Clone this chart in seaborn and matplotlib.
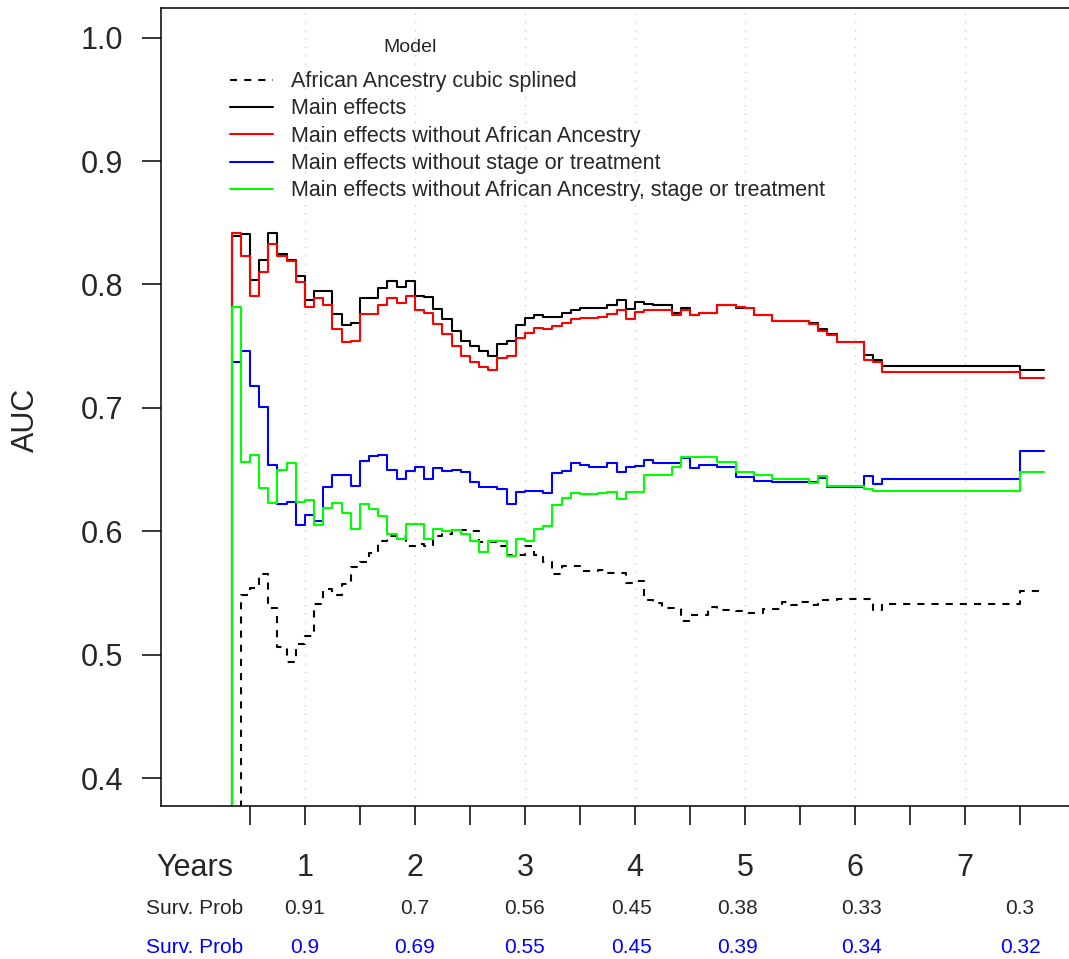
import matplotlib
matplotlib.use("Agg")
import matplotlib.pyplot as plt
import matplotlib.transforms as mtransforms
import numpy as np
import pandas as pd
import seaborn as sns

# months at which the time-dependent AUC was evaluated (m3 lies below the axis)
months = list(range(3, 93))
last_month = 92.6

auc_spline = [0.30, 0.30,
              0.548, 0.554, 0.565, 0.538, 0.506, 0.494, 0.509,
              0.515, 0.541, 0.553, 0.548, 0.557, 0.571, 0.575, 0.582,
              0.592, 0.596, 0.596, 0.588, 0.590, 0.588, 0.596, 0.598,
              0.601, 0.601, 0.600, 0.591, 0.591, 0.588, 0.581, 0.581,
              0.588, 0.581, 0.575, 0.565, 0.572, 0.572, 0.568, 0.568,
              0.569, 0.566, 0.566, 0.558, 0.560, 0.544, 0.542, 0.538,
              0.538, 0.527, 0.532, 0.532, 0.539, 0.536, 0.536, 0.535,
              0.534, 0.534, 0.537, 0.537, 0.543, 0.540, 0.543, 0.540,
              0.544, 0.544, 0.545, 0.545, 0.545, 0.545, 0.536] + [0.541] * 15 + [0.552] * 3

auc_main = [0.30,
            0.839, 0.841, 0.804, 0.820, 0.842, 0.825, 0.820, 0.807,
            0.787, 0.795, 0.795, 0.776, 0.767, 0.769, 0.789, 0.789,
            0.797, 0.803, 0.798, 0.803, 0.791, 0.790, 0.780, 0.772,
            0.762, 0.754, 0.750, 0.746, 0.742, 0.752, 0.754, 0.767,
            0.773, 0.775, 0.774, 0.774, 0.777, 0.779, 0.781, 0.781,
            0.781, 0.783, 0.787, 0.780, 0.786, 0.784, 0.783, 0.783,
            0.777, 0.781, 0.775, 0.777, 0.777, 0.783, 0.783, 0.781,
            0.781, 0.775, 0.775, 0.770, 0.770, 0.770, 0.770, 0.769,
            0.764, 0.760, 0.753, 0.753, 0.753, 0.743, 0.739] + [0.734] * 15 + [0.731] * 3

auc_no_aa = [0.30,
             0.842, 0.823, 0.791, 0.810, 0.833, 0.823, 0.819, 0.802,
             0.782, 0.789, 0.783, 0.764, 0.753, 0.754, 0.776, 0.776,
             0.783, 0.789, 0.785, 0.791, 0.779, 0.777, 0.768, 0.760,
             0.750, 0.742, 0.737, 0.733, 0.731, 0.740, 0.742, 0.757,
             0.761, 0.765, 0.764, 0.766, 0.769, 0.772, 0.773, 0.773,
             0.774, 0.776, 0.779, 0.772, 0.778, 0.779, 0.779, 0.779,
             0.775, 0.779, 0.775, 0.777, 0.777, 0.783, 0.783, 0.782,
             0.781, 0.775, 0.775, 0.770, 0.770, 0.770, 0.770, 0.768,
             0.762, 0.759, 0.753, 0.753, 0.753, 0.739, 0.737] + [0.729] * 15 + [0.724] * 3

auc_no_stage = [0.30,
                0.737, 0.746, 0.718, 0.701, 0.654, 0.622, 0.624, 0.605,
                0.613, 0.608, 0.636, 0.646, 0.646, 0.637, 0.657, 0.661,
                0.662, 0.650, 0.642, 0.649, 0.652, 0.642, 0.651, 0.649,
                0.650, 0.648, 0.640, 0.636, 0.636, 0.634, 0.622, 0.632,
                0.633, 0.633, 0.631, 0.647, 0.649, 0.655, 0.654, 0.652,
                0.652, 0.655, 0.648, 0.652, 0.653, 0.658, 0.655, 0.655,
                0.655, 0.659, 0.651, 0.654, 0.654, 0.652, 0.652, 0.644,
                0.644, 0.641, 0.641, 0.640, 0.640, 0.640, 0.640, 0.640,
                0.643, 0.636, 0.636, 0.636, 0.636, 0.645, 0.638] + [0.642] * 15 + [0.665] * 3

auc_min = [0.30,
           0.782, 0.656, 0.662, 0.635, 0.623, 0.650, 0.655, 0.624,
           0.625, 0.605, 0.619, 0.623, 0.615, 0.602, 0.622, 0.618,
           0.612, 0.598, 0.594, 0.606, 0.606, 0.594, 0.602, 0.600,
           0.601, 0.598, 0.592, 0.583, 0.592, 0.592, 0.580, 0.594,
           0.592, 0.602, 0.604, 0.621, 0.627, 0.631, 0.630, 0.630,
           0.631, 0.632, 0.626, 0.632, 0.632, 0.646, 0.646, 0.646,
           0.652, 0.660, 0.660, 0.660, 0.660, 0.656, 0.656, 0.648,
           0.648, 0.646, 0.646, 0.642, 0.642, 0.642, 0.642, 0.639,
           0.645, 0.637, 0.637, 0.637, 0.637, 0.634, 0.633] + [0.633] * 15 + [0.648] * 3

model_names = ["African Ancestry cubic splined",
               "Main effects",
               "Main effects without African Ancestry",
               "Main effects without stage or treatment",
               "Main effects without African Ancestry, stage or treatment"]
model_auc = [auc_spline, auc_main, auc_no_aa, auc_no_stage, auc_min]
model_colors = ["black", "black", "#FF0000", "#0000FF", "#00FF00"]
model_styles = [(0, (3.4, 3.4)), "-", "-", "-", "-"]

year_ticks = [1, 2, 3, 4, 5, 6, 7]
surv_at = [1, 2, 3, 3.97, 4.93, 6.06, 7.5]
surv_prob_1 = ["0.91", "0.7", "0.56", "0.45", "0.38", "0.33", "0.3"]
surv_prob_2 = ["0.9", "0.69", "0.55", "0.45", "0.39", "0.34", "0.32"]

sns.set_theme(style="white")
plt.rcParams["font.family"] = ["Liberation Sans", "DejaVu Sans"]

W, H = 1069, 959
fig = plt.figure(figsize=(W / 100, H / 100), dpi=100)
ax = fig.add_axes([161 / W, (H - 806) / H, 914 / W, 798 / H])

for name, auc, col, ls in zip(model_names, model_auc, model_colors, model_styles):
    df = pd.DataFrame({"year": np.array(months + [last_month]) / 12,
                       "auc": auc + [auc[-1]]})
    sns.lineplot(data=df, x="year", y="auc", ax=ax, color=col, linestyle=ls,
                 linewidth=1.5, drawstyle="steps-post", estimator=None,
                 sort=False, label=name)

for yr in year_ticks:
    ax.axvline(yr, color="#cccccc", linestyle=(0, (1, 5)), linewidth=1.0, zorder=0)

ax.set_xlim(-0.309, 8.0)
ax.set_ylim(0.3774, 1.024)
ax.set_xticks(np.arange(0.5, 8.0, 0.5))
ax.set_xticklabels([])
ax.set_yticks([0.4, 0.5, 0.6, 0.7, 0.8, 0.9, 1.0])
ax.set_yticklabels(["0.4", "0.5", "0.6", "0.7", "0.8", "0.9", "1.0"], fontsize=22)
ax.tick_params(axis="both", direction="out", length=14, width=1.1, color="black",
               bottom=True, left=True)
ax.tick_params(axis="y", pad=13)
for s in ax.spines.values():
    s.set_color("black")
    s.set_linewidth(1.1)
ax.set_xlabel("")
ax.set_ylabel("AUC", fontsize=22)
ax.yaxis.set_label_coords(-0.131, 0.484)

leg = ax.legend(loc="upper left", bbox_to_anchor=(0.0755, 0.921), frameon=False,
                fontsize=15.5, handlelength=2.0, handletextpad=0.85,
                labelspacing=0.295, borderpad=0, borderaxespad=0)
ax.text((410 - 161) / 914, (806 - 52) / 798, "Model", transform=ax.transAxes,
        ha="center", va="baseline", fontsize=14)

trans = mtransforms.blended_transform_factory(ax.transData, fig.transFigure)
ax.text(0, 1 - 876 / H, "Years", transform=trans, ha="center", va="baseline", fontsize=22)
for yr in year_ticks:
    ax.text(yr, 1 - 876 / H, str(yr), transform=trans, ha="center", va="baseline", fontsize=22)
ax.text(0, 1 - 914 / H, "Surv. Prob", transform=trans, ha="center", va="baseline", fontsize=15)
ax.text(0, 1 - 953 / H, "Surv. Prob", transform=trans, ha="center", va="baseline",
        fontsize=15, color="#0000FF")
for x, p1, p2 in zip(surv_at, surv_prob_1, surv_prob_2):
    ax.text(x, 1 - 914 / H, p1, transform=trans, ha="center", va="baseline", fontsize=15)
    ax.text(x, 1 - 953 / H, p2, transform=trans, ha="center", va="baseline",
            fontsize=15, color="#0000FF")

fig.savefig("out.png", dpi=100)
